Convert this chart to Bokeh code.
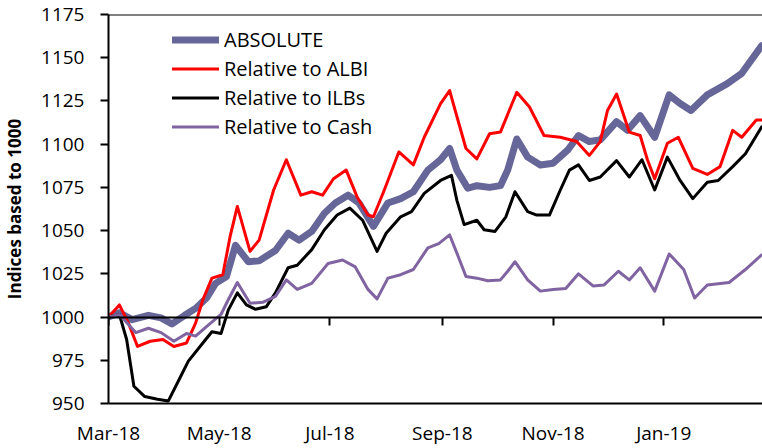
import pandas as pd
from bokeh.plotting import figure
from bokeh.models import (ColumnDataSource, Range1d, DatetimeAxis, MonthsTicker,
                          DatetimeTickFormatter, SingleIntervalTicker, Legend, LegendItem)
from bokeh.embed import file_html
from bokeh.resources import INLINE

# ---------------- data ----------------
abs_dates = ["2018-03-01","2018-03-07","2018-03-14","2018-03-23","2018-03-30","2018-04-05","2018-04-12","2018-04-18",
             "2018-04-24","2018-04-29","2018-05-05","2018-05-10","2018-05-17","2018-05-23","2018-06-01","2018-06-08",
             "2018-06-14","2018-06-21","2018-06-28","2018-07-04","2018-07-11","2018-07-17","2018-07-25","2018-08-02",
             "2018-08-09","2018-08-16","2018-08-24","2018-08-31","2018-09-05","2018-09-09","2018-09-15","2018-09-20",
             "2018-09-27","2018-10-03","2018-10-07","2018-10-12","2018-10-18","2018-10-25","2018-11-01","2018-11-09",
             "2018-11-15","2018-11-21","2018-11-27","2018-12-06","2018-12-12","2018-12-19","2018-12-27","2019-01-04",
             "2019-01-10","2019-01-16","2019-01-25","2019-02-05","2019-02-13","2019-02-24"]
abs_vals = [1000,1002.5,998.5,1001,999.5,996,1001,1005,1011,1019.5,1023.5,1041.5,1032,1032.5,1038.5,1048.5,
            1044.5,1049.5,1060,1066,1070.5,1066,1052.5,1066,1068.5,1072.5,1085,1091,1097.5,1085,1074.5,1076,
            1075,1076,1085,1103,1092.5,1088,1089,1096.5,1105,1101.5,1102.5,1113,1108,1116.5,1104,1128.5,
            1123.5,1119.5,1128.5,1135,1141,1157]

albi_dates = ["2018-03-01","2018-03-07","2018-03-12","2018-03-17","2018-03-24","2018-03-31","2018-04-06","2018-04-13",
              "2018-04-18","2018-04-22","2018-04-27","2018-05-03","2018-05-07","2018-05-11","2018-05-18","2018-05-23",
              "2018-05-31","2018-06-07","2018-06-15","2018-06-21","2018-06-27","2018-07-03","2018-07-10","2018-07-16",
              "2018-07-22","2018-07-25","2018-07-31","2018-08-08","2018-08-16","2018-08-22","2018-08-31","2018-09-05",
              "2018-09-09","2018-09-14","2018-09-20","2018-09-27","2018-10-03","2018-10-12","2018-10-19","2018-10-27",
              "2018-11-05","2018-11-14","2018-11-21","2018-11-27","2018-12-01","2018-12-06","2018-12-13","2018-12-19",
              "2018-12-23","2018-12-27","2019-01-03","2019-01-09","2019-01-17","2019-01-25","2019-02-01","2019-02-08",
              "2019-02-13","2019-02-21","2019-02-24"]
albi_vals = [1000,1007,996.5,983,986,987,983,985,996.5,1010,1022.5,1024.5,1046.5,1064,1038,1044.5,
             1073.5,1091,1070.5,1072.5,1070.5,1080,1085,1069.5,1059,1058,1073.5,1095.5,1088,1104,1123.5,1131,
             1116,1097.5,1091.5,1106,1107,1130,1121.5,1105,1104,1101.5,1093.5,1101.5,1119.5,1129,1107,1105,
             1091,1080,1100.5,1104,1086,1082.5,1087,1108,1104,1114,1114]

ilb_dates = ["2018-03-01","2018-03-07","2018-03-11","2018-03-15","2018-03-21","2018-03-28","2018-04-03","2018-04-09",
             "2018-04-14","2018-04-22","2018-04-27","2018-05-02","2018-05-06","2018-05-11","2018-05-16","2018-05-21",
             "2018-05-27","2018-06-01","2018-06-08","2018-06-13","2018-06-21","2018-06-28","2018-07-05","2018-07-12",
             "2018-07-19","2018-07-27","2018-08-01","2018-08-09","2018-08-15","2018-08-22","2018-08-31","2018-09-06",
             "2018-09-09","2018-09-13","2018-09-20","2018-09-24","2018-09-30","2018-10-06","2018-10-11","2018-10-18",
             "2018-10-23","2018-10-30","2018-11-05","2018-11-10","2018-11-15","2018-11-21","2018-11-27","2018-12-06",
             "2018-12-13","2018-12-20","2018-12-27","2019-01-03","2019-01-10","2019-01-17","2019-01-25","2019-01-31",
             "2019-02-08","2019-02-15","2019-02-24"]
ilb_vals = [1000,1001.5,987,960,954,952.5,951.5,964,974.5,985,991.5,990.5,1004,1014,1007,1004.5,
            1006,1014,1028.5,1030,1039,1050.5,1059,1063,1056,1038,1048.5,1058,1061,1071.5,1079,1082,
            1067.5,1053.5,1056,1050.5,1049.5,1058,1072.5,1061,1059,1059,1073.5,1085,1088,1079,1081,1090.5,
            1081,1091,1073.5,1092.5,1079,1068.5,1078,1079,1087,1094.5,1110]

cash_dates = ["2018-03-01","2018-03-07","2018-03-16","2018-03-23","2018-03-30","2018-04-06","2018-04-13","2018-04-18",
              "2018-04-24","2018-05-02","2018-05-06","2018-05-11","2018-05-18","2018-05-25","2018-06-01","2018-06-07",
              "2018-06-13","2018-06-21","2018-06-30","2018-07-08","2018-07-15","2018-07-22","2018-07-27","2018-08-02",
              "2018-08-09","2018-08-16","2018-08-24","2018-08-30","2018-09-05","2018-09-09","2018-09-14","2018-09-20",
              "2018-09-26","2018-10-03","2018-10-07","2018-10-11","2018-10-18","2018-10-25","2018-11-01","2018-11-08",
              "2018-11-15","2018-11-23","2018-11-29","2018-12-07","2018-12-13","2018-12-19","2018-12-27","2019-01-04",
              "2019-01-12","2019-01-18","2019-01-25","2019-02-06","2019-02-15","2019-02-24"]
cash_vals = [1000,1001.5,991,993.5,991,986,990.5,989,994.5,1001.5,1010,1020,1008,1008.5,1012,1021.5,
             1016,1019.5,1031,1033,1029,1016,1010.5,1022.5,1024.5,1027.5,1040,1042.5,1047.5,1037,1023.5,1022.5,
             1021,1021.5,1026.5,1032,1021.5,1015,1016,1016.5,1025,1018,1018.5,1026.5,1021.5,1028.5,1015,1036.5,
             1027.5,1011,1018.5,1020,1027.5,1036]

series_names = ["ABSOLUTE", "Relative to ALBI", "Relative to ILBs", "Relative to Cash"]
series_colors = ["#666699", "#FF0000", "#000000", "#8064A2"]
series_widths = [7, 3, 3, 3]

y_start, y_end, y_step, y_cross = 950, 1175, 25, 1000
x_start, x_end = "2018-03-01", "2019-02-24 10:00"
y_title = "Indices based to 1000"

FONT = "Open Sans"

p = figure(width=762, height=448, output_backend="svg", toolbar_location=None,
           x_axis_type="datetime",
           x_range=Range1d(pd.Timestamp(x_start), pd.Timestamp(x_end)),
           y_range=Range1d(y_start, y_end),
           min_border_left=106, min_border_right=0, min_border_top=14, min_border_bottom=44)
p.outline_line_color = None
p.grid.visible = False
p.background_fill_color = "white"

months_ticker = MonthsTicker(months=[0, 2, 4, 6, 8, 10])
fmt = DatetimeTickFormatter(days="%b-%y", months="%b-%y", years="%b-%y")

# bottom axis: labels only, line at the frame bottom
xa = p.xaxis[0]
xa.ticker = months_ticker
xa.formatter = fmt
xa.major_tick_line_color = None
xa.major_tick_out = 0
xa.major_tick_in = 0
xa.minor_tick_line_color = None
xa.axis_line_color = "black"
xa.axis_line_width = 2
xa.major_label_text_font = FONT
xa.major_label_text_font_size = "19px"
xa.major_label_text_color = "black"
xa.major_label_standoff = 16

# axis line crossing at 1000 with tick marks
cross_axis = DatetimeAxis(fixed_location=y_cross, ticker=months_ticker, formatter=fmt)
cross_axis.major_label_text_color = None
cross_axis.major_label_text_font_size = "0px"
cross_axis.major_tick_out = 8
cross_axis.major_tick_in = 0
cross_axis.major_tick_line_width = 2
cross_axis.major_tick_line_color = "black"
cross_axis.minor_tick_line_color = None
cross_axis.axis_line_width = 2
cross_axis.axis_line_color = "black"
p.add_layout(cross_axis, "below")

# top border line
top_axis = DatetimeAxis(fixed_location=y_end, ticker=months_ticker)
top_axis.major_label_text_color = None
top_axis.major_label_text_font_size = "0px"
top_axis.major_tick_line_color = None
top_axis.minor_tick_line_color = None
top_axis.axis_line_width = 2
top_axis.axis_line_color = "black"
p.add_layout(top_axis, "above")

ya = p.yaxis[0]
ya.ticker = SingleIntervalTicker(interval=y_step, num_minor_ticks=0)
ya.minor_tick_line_color = None
ya.major_tick_out = 8
ya.major_tick_in = 0
ya.major_tick_line_width = 2
ya.major_tick_line_color = "black"
ya.axis_line_width = 2
ya.axis_line_color = "black"
ya.major_label_text_font = FONT
ya.major_label_text_font_size = "19px"
ya.major_label_text_color = "black"
ya.major_label_standoff = 16
ya.axis_label = y_title
ya.axis_label_text_font = FONT
ya.axis_label_text_font_style = "bold"
ya.axis_label_text_font_size = "17px"
ya.axis_label_text_color = "black"
ya.axis_label_standoff = 12

all_dates = [abs_dates, albi_dates, ilb_dates, cash_dates]
all_vals = [abs_vals, albi_vals, ilb_vals, cash_vals]

items = []
for name, col, w, d, v in zip(series_names, series_colors, series_widths, all_dates, all_vals):
    src = ColumnDataSource(dict(x=pd.to_datetime(d), y=v))
    r = p.line("x", "y", source=src, line_color=col, line_width=w,
               line_join="round", line_cap="round")
    items.append(LegendItem(label=name, renderers=[r]))

legend = Legend(items=items, location=(64, 262), orientation="vertical",
                background_fill_alpha=0, border_line_color=None,
                label_text_font=FONT, label_text_font_size="20px", label_text_color="black",
                glyph_width=47, glyph_height=29, label_height=29, label_standoff=5,
                spacing=0, padding=0, margin=0)
p.add_layout(legend, "center")

open("out.html", "w").write(file_html(p, INLINE))
